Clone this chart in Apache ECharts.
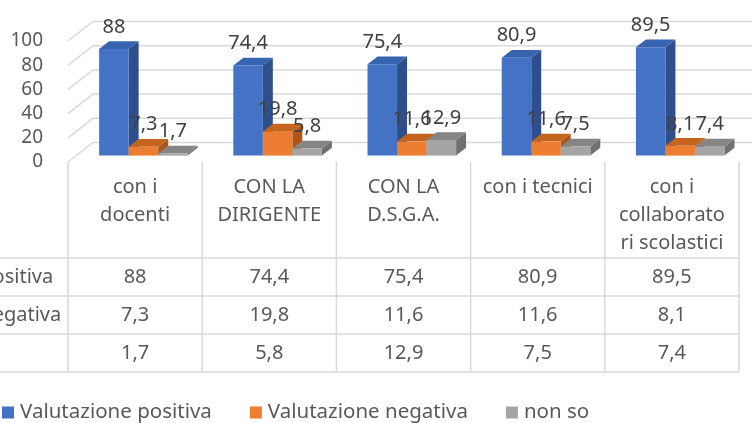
<!DOCTYPE html>
<html>
<head>
<meta charset="utf-8">
<script src="https://cdn.jsdelivr.net/npm/echarts@6/dist/echarts.min.js"></script>
<style>
  html, body { margin: 0; padding: 0; background: #fff; }
  #chart1 { width: 752px; height: 423px; }
</style>
</head>
<body>
<div id="chart1"></div>
<script>
// dati
var categories = ['con i\ndocenti', 'CON LA\nDIRIGENTE', 'CON LA\nD.S.G.A.', 'con i tecnici', 'con i\ncollaborato\nri scolastici'];
var seriesNames = ['Valutazione positiva', 'Valutazione negativa', 'non so'];
var positiva = [88, 74.4, 75.4, 80.9, 89.5];
var negativa = [7.3, 19.8, 11.6, 11.6, 8.1];
var nonSo = [1.7, 5.8, 12.9, 7.5, 7.4];
var yTicks = [0, 20, 40, 60, 80, 100];

var valori = [positiva, negativa, nonSo];
var colori = [
    { front: '#4472C4', top: '#3863B0', side: '#2E4F8C' },
    { front: '#ED7D31', top: '#C4641F', side: '#AE5519' },
    { front: '#A5A5A5', top: '#858585', side: '#707070' }
];

var FONT = 'Noto Sans';
var TXT = '#595959';
// profondita' 3D
var OX = 8.3, OY = -6.4, DX = 10, DY = -7.8;   // barre
var WX = 25, WY = -19.5;                         // parete di fondo

function num(v) {
    return String(v).replace('.', ',');
}

var myChart1 = echarts.init(document.getElementById('chart1'));

function barRender(s) {
    return function (params, api) {
        var i = api.value(0), v = api.value(1);
        var base = api.coord([i, 0]), top = api.coord([i, v]);
        var bw = api.size([1, 0])[0] * 0.22;
        var x0 = base[0] - 1.5 * bw + s * bw + OX, x1 = x0 + bw;
        var y0 = base[1] + OY, y1 = top[1] + OY;
        var c = colori[s];
        return {
            type: 'group',
            children: [
                { type: 'polygon', shape: { points: [[x1, y1], [x1 + DX, y1 + DY], [x1 + DX, y0 + DY], [x1, y0]] }, style: { fill: c.side } },
                { type: 'polygon', shape: { points: [[x0, y1], [x1, y1], [x1 + DX, y1 + DY], [x0 + DX, y1 + DY]] }, style: { fill: c.top } },
                { type: 'rect', shape: { x: x0, y: y1, width: bw, height: y0 - y1 }, style: { fill: c.front } },
                { type: 'text', x: (x0 + x1) / 2, y: y1 - 22, z2: 50,
                  style: { text: num(v), fill: '#404040', font: '20px "' + FONT + '"', align: 'center', verticalAlign: 'middle' } }
            ]
        };
    };
}

function wallRender(params, api) {
    var cs = params.coordSys;
    var y = api.coord([0, api.value(0)])[1];
    return {
        type: 'polyline',
        shape: { points: [[cs.x, y], [cs.x + WX, y + WY], [cs.x + cs.width + WX, y + WY]] },
        style: { stroke: '#D9D9D9', lineWidth: 1.5, fill: null }
    };
}

function tableRender(params, api) {
    var cs = params.coordSys;
    var i = api.value(0);
    var c = api.coord([i, 0]);
    var cw = api.size([1, 0])[0];
    var yb = cs.y + cs.height;
    var xl = c[0] - cw / 2, xr = c[0] + cw / 2;
    var rows = [yb + 96, yb + 134, yb + 172, yb + 210];
    var line = { stroke: '#D9D9D9', lineWidth: 1.5 };
    var ch = [
        { type: 'line', shape: { x1: xr, y1: yb, x2: xr, y2: rows[3] }, style: line }
    ];
    if (i === 0) {
        ch.push({ type: 'line', shape: { x1: xl, y1: yb, x2: xl, y2: rows[3] }, style: line });
        for (var r = 0; r < rows.length; r++) {
            ch.push({ type: 'line', shape: { x1: 0, y1: rows[r], x2: xl, y2: rows[r] }, style: line });
        }
        for (var s = 0; s < seriesNames.length; s++) {
            ch.push({ type: 'text', x: xl - 202, y: rows[s] + 19,
                style: { text: seriesNames[s], fill: TXT, font: '20px "' + FONT + '"', align: 'left', verticalAlign: 'middle' } });
        }
    }
    for (var k = 0; k < rows.length; k++) {
        ch.push({ type: 'line', shape: { x1: xl, y1: rows[k], x2: xr, y2: rows[k] }, style: line });
    }
    for (var t = 0; t < 3; t++) {
        ch.push({ type: 'text', x: c[0], y: rows[t] + 19,
            style: { text: num(api.value(t + 1)), fill: TXT, font: '20px "' + FONT + '"', align: 'center', verticalAlign: 'middle' } });
    }
    return { type: 'group', children: ch };
}

var series = [
    {
        type: 'custom', name: '_wall', silent: true, z: 1,
        renderItem: wallRender,
        encode: { y: 0 },
        data: yTicks.map(function (v) { return [v]; })
    },
    {
        type: 'custom', name: '_table', silent: true, z: 1, clip: false,
        renderItem: tableRender,
        data: categories.map(function (c, i) { return [i, positiva[i], negativa[i], nonSo[i]]; })
    }
];
for (var s = 0; s < seriesNames.length; s++) {
    series.push({
        type: 'custom',
        name: seriesNames[s],
        z: 3,
        clip: false,
        itemStyle: { color: colori[s].front },
        renderItem: barRender(s),
        data: valori[s].map(function (v, i) { return [i, v]; })
    });
}

myChart1.setOption({
    animation: false,
    textStyle: { fontFamily: FONT },
    grid: { left: 68, right: 13, top: 41, bottom: 261 },
    legend: {
        data: seriesNames,
        left: 2,
        bottom: 0,
        padding: 0,
        icon: 'rect',
        itemWidth: 12,
        itemHeight: 12,
        itemGap: 38,
        textStyle: { color: TXT, fontSize: 20.5, fontFamily: FONT, padding: [0, 0, 0, 1] }
    },
    xAxis: {
        type: 'category',
        data: categories,
        axisLine: { show: false },
        axisTick: { show: false },
        axisLabel: {
            color: TXT, fontSize: 20, fontFamily: FONT,
            margin: 11, lineHeight: 28, verticalAlign: 'top', interval: 0
        }
    },
    yAxis: {
        type: 'value',
        min: 0,
        max: 100,
        interval: 20,
        axisLine: { show: false },
        axisTick: { show: false },
        splitLine: { show: false },
        axisLabel: { color: TXT, fontSize: 19, fontFamily: FONT, margin: 25 }
    },
    series: series
});

window.onresize = function () {
    myChart1.resize();
};
</script>
</body>
</html>
